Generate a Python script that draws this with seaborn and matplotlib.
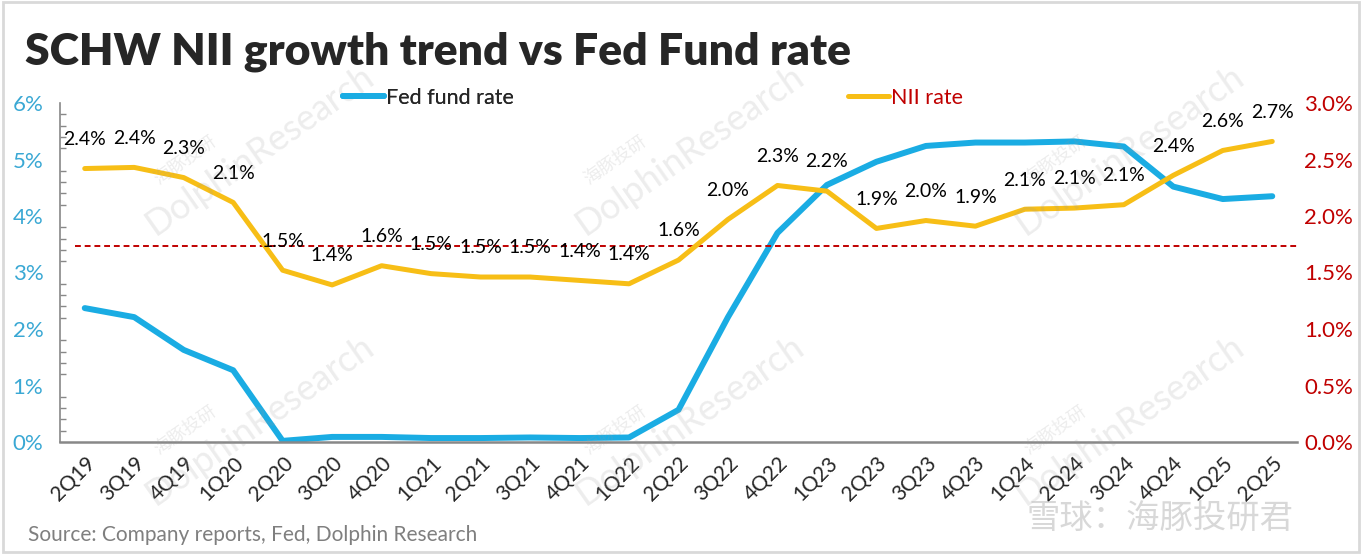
import matplotlib
matplotlib.use("Agg")
import matplotlib.pyplot as plt
import seaborn as sns
import pandas as pd
from matplotlib.patches import Rectangle

# quarters and series
quarters = ["2Q19", "3Q19", "4Q19", "1Q20", "2Q20", "3Q20", "4Q20", "1Q21", "2Q21",
            "3Q21", "4Q21", "1Q22", "2Q22", "3Q22", "4Q22", "1Q23", "2Q23", "3Q23",
            "4Q23", "1Q24", "2Q24", "3Q24", "4Q24", "1Q25", "2Q25"]
fed_rate = [2.37, 2.21, 1.63, 1.27, 0.02, 0.09, 0.09, 0.07, 0.07, 0.08, 0.07, 0.08,
            0.57, 2.21, 3.70, 4.55, 4.96, 5.24, 5.30, 5.30, 5.32, 5.23, 4.52, 4.30, 4.35]
nii_rate = [2.42, 2.43, 2.34, 2.12, 1.52, 1.39, 1.56, 1.49, 1.46, 1.46, 1.43, 1.40,
            1.61, 1.97, 2.27, 2.22, 1.89, 1.96, 1.91, 2.06, 2.07, 2.10, 2.36, 2.58, 2.66]
ref_level = 3.47  # dashed reference line, left axis

left_ticks = [0, 1, 2, 3, 4, 5, 6]
right_ticks = [0.0, 0.5, 1.0, 1.5, 2.0, 2.5, 3.0]

BLUE = "#1AACE3"
YELLOW = "#F7BE16"
RED = "#C00000"
FONT = "Lato"

df = pd.DataFrame({"quarter": quarters, "fed": fed_rate, "nii": nii_rate})

sns.set_style("white")
plt.rcParams["font.family"] = [FONT, "Noto Sans CJK SC", "DejaVu Sans"]

fig = plt.figure(figsize=(13.62, 5.54), dpi=100)
ax = fig.add_axes([60 / 1362, 1 - 442 / 554, (1297 - 60) / 1362, (442 - 103) / 554])
ax2 = ax.twinx()

sns.lineplot(data=df, x="quarter", y="fed", ax=ax, color=BLUE, linewidth=4.3,
             sort=False, label="Fed fund rate", legend=False, solid_capstyle="round")
sns.lineplot(data=df, x="quarter", y="nii", ax=ax2, color=YELLOW, linewidth=3.6,
             sort=False, label="NII rate", legend=False, solid_capstyle="round")

ax.axhline(ref_level, xmin=0.012, xmax=1.0, color=RED, linestyle=(0, (3, 2)), linewidth=1.4)

ax.set_xlim(-0.5, len(quarters) - 0.5)
ax.set_ylim(0, 6)
ax2.set_ylim(0, 3)
ax.set_yticks(left_ticks)
ax.set_yticklabels([f"{t}%" for t in left_ticks], color="#3AA8D4", fontsize=16)
ax2.set_yticks(right_ticks)
ax2.set_yticklabels([f"{t:.1f}%" for t in right_ticks], color=RED, fontsize=16)
ax.set_xlabel("")
ax.set_ylabel("")
ax2.set_ylabel("")

ax.set_xticks(range(len(quarters)))
ax.set_xticklabels(quarters, rotation=45, ha="right", rotation_mode="anchor", fontsize=15)
ax.tick_params(axis="x", length=0, pad=8)
ax.tick_params(axis="y", length=0, pad=12)
ax2.tick_params(axis="y", length=0, pad=5)
ax.set_yticks([i * 0.2 for i in range(31)], minor=True)
ax.tick_params(axis="y", which="minor", direction="in", length=4, color="#888888", width=1)

for a in (ax, ax2):
    for side in ("top", "right", "left", "bottom"):
        a.spines[side].set_visible(False)
    a.patch.set_alpha(0)
ax.spines["left"].set_visible(True)
ax.spines["left"].set_color("#888888")
ax.spines["left"].set_linewidth(1.2)
ax.spines["bottom"].set_visible(True)
ax.spines["bottom"].set_color("#888888")
ax.spines["bottom"].set_linewidth(1.8)
ax.grid(False)
ax2.grid(False)

# data labels above the NII line
for q, v in zip(quarters, nii_rate):
    ax2.annotate(f"{v:.1f}%", (q, v), xytext=(0, 21), textcoords="offset points",
                 ha="center", va="center", fontsize=14, color="black")

# legends
h1, l1 = ax.get_legend_handles_labels()
h2, l2 = ax2.get_legend_handles_labels()
leg1 = fig.legend(h1, l1, loc="center left", bbox_to_anchor=(343 / 1362, 1 - 98 / 554),
                  frameon=False, fontsize=15.5, handlelength=1.9, handletextpad=0.1,
                  borderpad=0, borderaxespad=0)
leg2 = fig.legend(h2, l2, loc="center left", bbox_to_anchor=(848 / 1362, 1 - 98 / 554),
                  frameon=False, fontsize=15.5, handlelength=1.9, handletextpad=0.1,
                  borderpad=0, borderaxespad=0)
leg2.get_texts()[0].set_color(RED)
fig.add_artist(leg1)

# title and source
fig.text(25 / 1362, 1 - 52 / 554, "SCHW NII growth trend vs Fed Fund rate",
         fontsize=32, fontweight="heavy", va="center", ha="left")
fig.text(28 / 1362, 1 - 535 / 554, "Source: Company reports, Fed, Dolphin Research",
         fontsize=15, color="#7F7F7F", va="center", ha="left")

# faint watermarks
wm = dict(color="#9a9a9a", alpha=0.18, rotation=35, ha="center", va="center")
for x, y in [(260, 150), (690, 150), (1130, 150), (260, 420), (690, 420), (1130, 420)]:
    fig.text(x / 1362, 1 - y / 554, "DolphinResearch", fontsize=26, **wm)
    fig.text((x - 75) / 1362, 1 - (y + 10) / 554, "海豚投研", fontsize=13, **wm)
fig.text(1160 / 1362, 1 - 518 / 554, "雪球：海豚投研君", fontsize=24, color="#c8c8c8",
         alpha=0.7, ha="center", va="center")

fig.add_artist(Rectangle((0.002, 0.004), 0.996, 0.992, transform=fig.transFigure,
                         fill=False, edgecolor="#D9D9D9", linewidth=2))

fig.savefig("out.png", dpi=100)
